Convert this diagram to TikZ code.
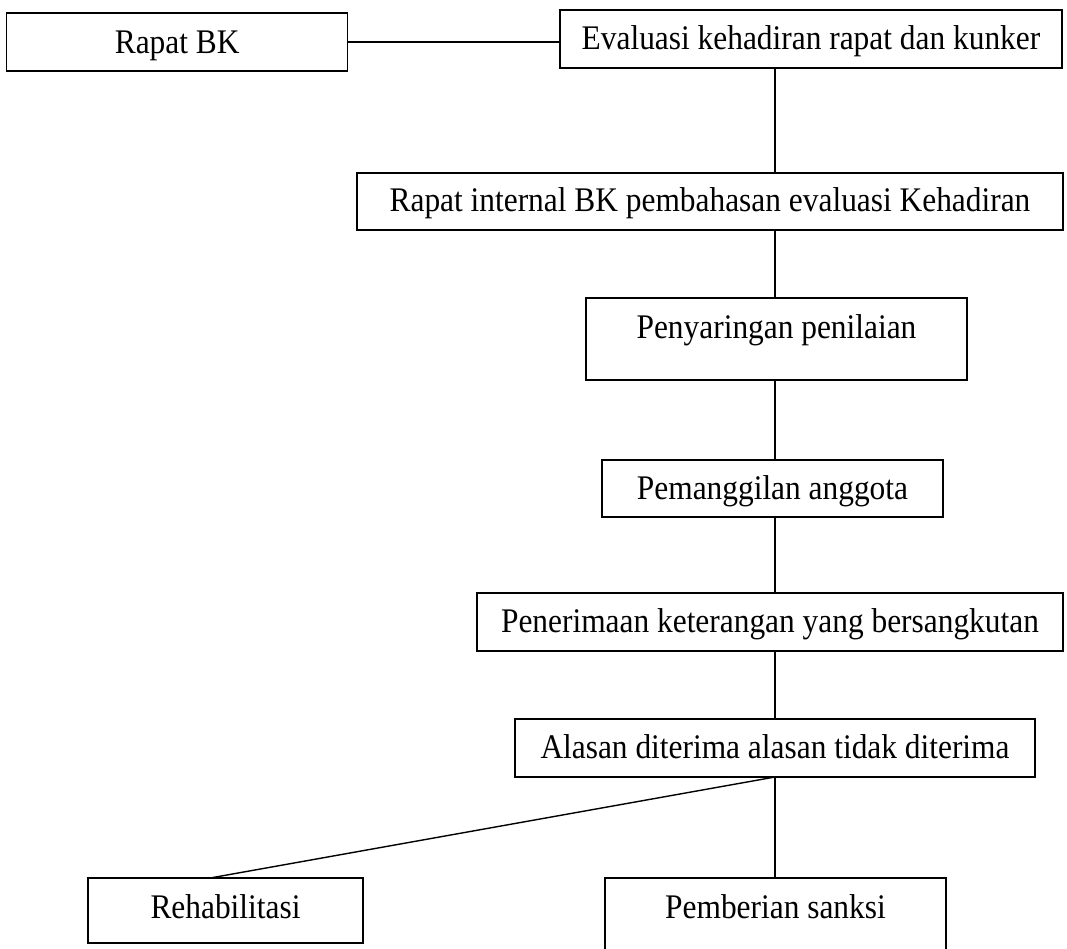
\documentclass[tikz,border=0pt]{standalone}
\usepackage{fontspec}
\setmainfont[FakeStretch=0.91]{Liberation Serif}
\usetikzlibrary{calc}
\begin{document}
\begin{tikzpicture}[x=1pt,y=-1pt,
  box/.style={draw, line width=1.4pt, inner sep=0pt, outer sep=0pt, anchor=north west,
    font=\fontsize{34.5}{40}\selectfont},
  link/.style={line width=1.4pt}]
\useasboundingbox (0,0) rectangle (1067,949);
\coordinate (spine) at (775,0);
\node[box, minimum width=341pt, text height=41pt, text depth=17pt] (rbk) at (6.7,13) {Rapat BK};
\node[box, minimum width=502pt, text height=40pt, text depth=18pt] (eval) at (560,10) {Evaluasi kehadiran rapat dan kunker};
\node[box, minimum width=706pt, text height=39pt, text depth=18pt] (rint) at (357,173) {Rapat internal BK pembahasan evaluasi Kehadiran};
\node[box, minimum width=381pt, text height=40pt, text depth=42pt] (saring) at (586,298) {Penyaringan penilaian};
\node[box, minimum width=341pt, text height=39pt, text depth=18pt] (panggil) at (602,460) {Pemanggilan anggota};
\node[box, minimum width=586pt, text height=39pt, text depth=19pt] (terima) at (477,593) {Penerimaan keterangan yang bersangkutan};
\node[box, minimum width=520pt, text height=39pt, text depth=19pt] (alasan) at (515,719) {Alasan diterima alasan tidak diterima};
\node[box, minimum width=275pt, text height=40pt, text depth=25pt] (rehab) at (88,878) {Rehabilitasi};
\node[box, minimum width=341pt, text height=40pt, text depth=37pt] (sanksi) at (605,878) {Pemberian sanksi};
\draw[link] (rbk.east) -- (rbk.east -| eval.west);
\draw[link] (eval.south -| spine) -- (rint.north -| spine);
\draw[link] (rint.south -| spine) -- (saring.north -| spine);
\draw[link] (saring.south -| spine) -- (panggil.north -| spine);
\draw[link] (panggil.south -| spine) -- (terima.north -| spine);
\draw[link] (terima.south -| spine) -- (alasan.north -| spine);
\draw[link] (alasan.south -| spine) -- ($(rehab.north west)!0.444!(rehab.north east)$);
\draw[link] (alasan.south -| spine) -- (sanksi.north -| spine);
\end{tikzpicture}
\end{document}
